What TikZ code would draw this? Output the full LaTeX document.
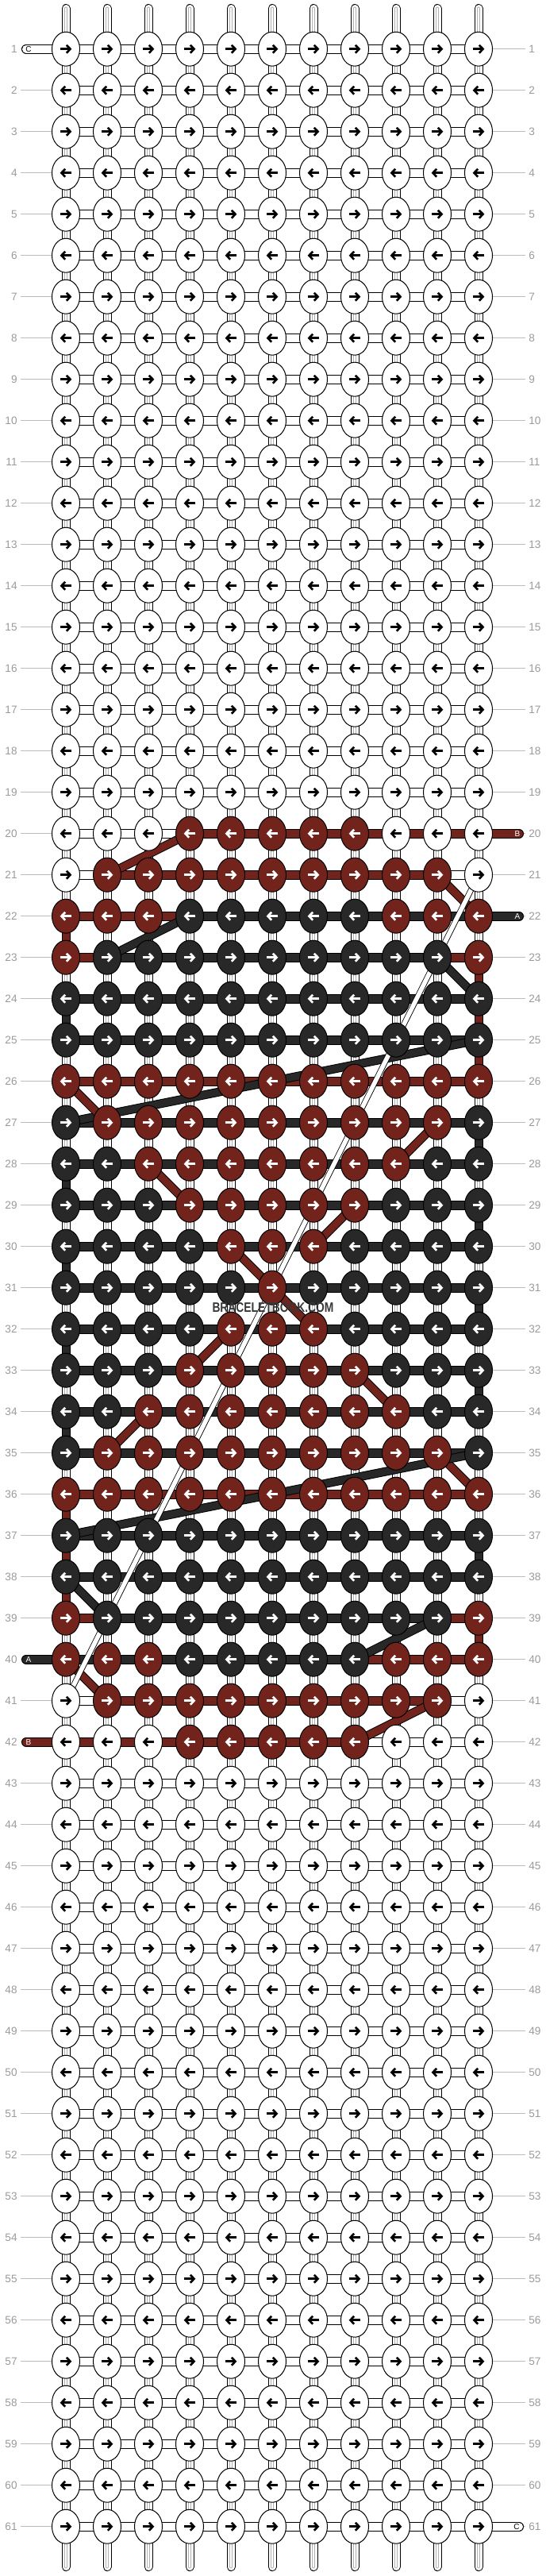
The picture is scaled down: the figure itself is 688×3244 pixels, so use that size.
\documentclass[tikz,border=0pt]{standalone}
\usepackage{fontspec}
\usepackage{graphicx}
\setmainfont{Liberation Sans}
\usetikzlibrary{shapes.geometric,arrows.meta}
\definecolor{cW}{HTML}{FFFFFF}
\definecolor{cR}{HTML}{72241C}
\definecolor{cK}{HTML}{282828}
\definecolor{labgray}{HTML}{9A9A9A}
\definecolor{linegray}{HTML}{BBBBBB}
\definecolor{threadgray}{HTML}{B0B0B0}
\newcommand\defknots[2]{\expandafter\def\csname kn#1\endcsname{#2}}
\newcommand\defbars[2]{\expandafter\def\csname hb#1\endcsname{#2}}
\newcommand\defvc[3]{\expandafter\def\csname vc#1-#2\endcsname{#3}}
\def\allW{W,W,W,W,W,W,W,W,W,W,W}
\def\allWb{W,W,W,W,W,W,W,W,W,W}
% knot colours
\defknots{20}{W,W,W,R,R,R,R,R,W,W,W}
\defknots{21}{W,R,R,R,R,R,R,R,R,R,W}
\defknots{22}{R,R,R,K,K,K,K,K,R,R,R}
\defknots{23}{R,K,K,K,K,K,K,K,K,K,R}
\defknots{24}{K,K,K,K,K,K,K,K,K,K,K}
\defknots{25}{K,K,K,K,K,K,K,K,K,K,K}
\defknots{26}{R,R,R,R,R,R,R,R,R,R,R}
\defknots{27}{K,R,R,R,R,R,R,R,R,R,K}
\defknots{28}{K,K,R,R,R,R,R,R,R,K,K}
\defknots{29}{K,K,K,R,R,R,R,R,K,K,K}
\defknots{30}{K,K,K,K,R,R,R,K,K,K,K}
\defknots{31}{K,K,K,K,K,R,K,K,K,K,K}
\defknots{32}{K,K,K,K,R,R,R,K,K,K,K}
\defknots{33}{K,K,K,R,R,R,R,R,K,K,K}
\defknots{34}{K,K,R,R,R,R,R,R,R,K,K}
\defknots{35}{K,R,R,R,R,R,R,R,R,R,K}
\defknots{36}{R,R,R,R,R,R,R,R,R,R,R}
\defknots{37}{K,K,K,K,K,K,K,K,K,K,K}
\defknots{38}{K,K,K,K,K,K,K,K,K,K,K}
\defknots{39}{R,K,K,K,K,K,K,K,K,K,R}
\defknots{40}{R,R,R,K,K,K,K,K,R,R,R}
\defknots{41}{W,R,R,R,R,R,R,R,R,R,W}
\defknots{42}{W,W,W,R,R,R,R,R,W,W,W}
% horizontal bars
\defbars{20}{W,W,W,R,R,R,R,R,R,R}
\defbars{21}{W,R,R,R,R,R,R,R,R,W}
\defbars{22}{R,R,R,K,K,K,K,K,K,K}
\defbars{23}{R,K,K,K,K,K,K,K,K,R}
\defbars{24}{K,K,K,K,K,K,K,K,K,K}
\defbars{25}{K,K,K,K,K,K,K,K,K,K}
\defbars{26}{R,R,R,R,R,R,R,R,R,R}
\defbars{27}{K,K,K,K,K,K,K,K,K,K}
\defbars{28}{K,K,K,K,K,K,K,K,K,K}
\defbars{29}{K,K,K,K,K,K,K,K,K,K}
\defbars{30}{K,K,K,K,K,K,K,K,K,K}
\defbars{31}{K,K,K,K,K,K,K,K,K,K}
\defbars{32}{K,K,K,K,K,K,K,K,K,K}
\defbars{33}{K,K,K,K,K,K,K,K,K,K}
\defbars{34}{K,K,K,K,K,K,K,K,K,K}
\defbars{35}{K,K,K,K,K,K,K,K,K,K}
\defbars{36}{R,R,R,R,R,R,R,R,R,R}
\defbars{37}{K,K,K,K,K,K,K,K,K,K}
\defbars{38}{K,K,K,K,K,K,K,K,K,K}
\defbars{39}{R,K,K,K,K,K,K,K,K,R}
\defbars{40}{K,K,K,K,K,K,K,R,R,R}
\defbars{41}{W,R,R,R,R,R,R,R,R,W}
\defbars{42}{R,R,R,R,R,R,R,W,W,W}
% coloured vertical links (between row #1 and #1+1, column #2)
\defvc{22}{1}{cR}\defvc{23}{11}{cR}\defvc{24}{1}{cK}\defvc{24}{11}{cR}
\defvc{25}{11}{cR}\defvc{27}{11}{cK}\defvc{28}{1}{cK}\defvc{29}{11}{cK}
\defvc{30}{1}{cK}\defvc{31}{11}{cK}\defvc{32}{1}{cK}\defvc{33}{11}{cK}
\defvc{34}{1}{cK}\defvc{36}{1}{cR}\defvc{37}{1}{cR}\defvc{37}{11}{cK}
\defvc{38}{1}{cR}\defvc{39}{11}{cR}
\tikzset{
  knot/.style={ellipse, draw=black, line width=0.5pt, minimum width=17.5pt, minimum height=21.5pt, inner sep=0pt},
  hbar/.style={draw=black, line width=0.5pt, double=#1, double distance=5pt},
  dbar/.style={draw=black, line width=0.5pt, double=#1, double distance=4.5pt},
  vcolor/.style={draw=black, line width=0.5pt, double=#1, double distance=4.5pt},
  vthread/.style={draw=black, line width=0.5pt, double=white, double distance=4.5pt,
     postaction={draw=threadgray, line width=0.5pt, double=white, double distance=1pt}},
  thinthread/.style={draw=black, line width=0.4pt, double=white, double distance=2.8pt},
  arr/.style={line width=1.3pt, -{Straight Barb[length=2.4pt,width=5pt]}},
  rowlab/.style={inner sep=0pt, text=labgray, font=\fontsize{6.8pt}{8pt}\selectfont},
  labline/.style={draw=linegray, line width=0.5pt, shorten <=2pt, shorten >=2pt},
  extlab/.style={inner sep=0pt, font=\fontsize{5pt}{6pt}\selectfont},
}
\begin{document}
\begin{tikzpicture}[x=0.5pt,y=-0.5pt]
\useasboundingbox (0,0) rectangle (688,3244);
% knot centres
\foreach \i in {1,...,61}{
  \foreach \j in {1,...,11}{
    \pgfmathsetmacro\xx{83+(\j-1)*52}
    \pgfmathsetmacro\yy{61.7+(\i-1)*52}
    \coordinate (p-\i-\j) at (\xx,\yy);
  }
}
% row labels and guide lines
\foreach \i in {1,...,61}{
  \pgfmathsetmacro\yy{61.7+(\i-1)*52}
  \node[rowlab,anchor=east] (ll-\i) at (22,\yy) {\i};
  \node[rowlab,anchor=west] (rl-\i) at (666,\yy) {\i};
  \draw[labline] (ll-\i) -- (rl-\i);
}
% top and bottom thread ends
\foreach \j in {1,...,11}{
  \pgfmathsetmacro\xx{83+(\j-1)*52}
  \coordinate (t-\j) at (\xx,10.5);
  \coordinate (b-\j) at (\xx,3232.5);
  \draw[vthread, line cap=round] (t-\j) -- (p-1-\j);
  \draw[vthread, line cap=round] (p-61-\j) -- (b-\j);
}
% vertical links
\foreach \i in {1,...,60}{
  \pgfmathtruncatemacro\inext{\i+1}
  \foreach \j in {1,...,11}{
    \ifcsname vc\i-\j\endcsname
      \edef\vv{\csname vc\i-\j\endcsname}
      \draw[vcolor=\vv] (p-\i-\j) -- (p-\inext-\j);
    \else
      \draw[vthread] (p-\i-\j) -- (p-\inext-\j);
    \fi
  }
}
% horizontal bars
\foreach \i in {1,...,61}{
  \ifcsname hb\i\endcsname
    \expandafter\let\expandafter\lst\csname hb\i\endcsname
  \else
    \let\lst\allWb
  \fi
  \foreach \col [count=\j] in \lst {
    \pgfmathtruncatemacro\jn{\j+1}
    \edef\cc{c\col}
    \draw[hbar=\cc] (p-\i-\j) -- (p-\i-\jn);
  }
}
% thread ends (extensions)
\coordinate (eL1) at (33,61.7);
\coordinate (eR61) at (654,3181.7);
\coordinate (eR20) at (654,1049.7);
\coordinate (eR22) at (654,1153.7);
\coordinate (eL40) at (33,2089.7);
\coordinate (eL42) at (33,2193.7);
\draw[hbar=cW, line cap=round] (eL1) -- (p-1-1);
\draw[hbar=cW, line cap=round] (p-61-11) -- (eR61);
\draw[hbar=cR, line cap=round] (p-20-11) -- (eR20);
\draw[hbar=cK, line cap=round] (p-22-11) -- (eR22);
\draw[hbar=cK, line cap=round] (eL40) -- (p-40-1);
\draw[hbar=cR, line cap=round] (eL42) -- (p-42-1);
% diagonal carries
\foreach \a/\b/\c/\d/\col in {20/4/21/2/R, 21/10/22/11/R, 22/4/23/2/K, 23/10/24/11/K,
   25/11/27/1/K, 26/1/27/2/R, 27/10/28/9/R, 28/3/29/4/R, 29/8/30/7/R, 30/5/31/6/R,
   31/6/32/7/R, 32/5/33/4/R, 33/8/34/9/R, 34/3/35/2/R, 35/10/36/11/R, 35/11/37/1/K,
   38/1/39/2/K, 39/10/40/8/K, 40/1/41/2/R, 41/10/42/8/R}{
  \edef\cc{c\col}
  \draw[dbar=\cc] (p-\a-\b) -- (p-\c-\d);
}
% thin white thread
\draw[thinthread] (p-21-11) -- (p-41-1);
% knots
\foreach \i in {1,...,61}{
  \ifcsname kn\i\endcsname
    \expandafter\let\expandafter\lst\csname kn\i\endcsname
  \else
    \let\lst\allW
  \fi
  \pgfmathtruncatemacro\rowpar{mod(\i,2)}
  \foreach \col [count=\j] in \lst {
    \edef\cc{c\col}
    \node[knot, fill=\cc] (k-\i-\j) at (p-\i-\j) {};
    \if W\col \def\ac{black}\else \def\ac{white}\fi
    \ifnum\rowpar=1
      \draw[arr, draw=\ac] ([xshift=-3.7pt]k-\i-\j.center) -- ([xshift=3.7pt]k-\i-\j.center);
    \else
      \draw[arr, draw=\ac] ([xshift=3.7pt]k-\i-\j.center) -- ([xshift=-3.7pt]k-\i-\j.center);
    \fi
  }
}
% thread letters
\node[extlab, text=black] (lC1) at (36,61.7) {C};
\node[extlab, text=black] (lC61) at (651,3181.7) {C};
\node[extlab, text=white] (lB20) at (652,1049.7) {B};
\node[extlab, text=white] (lA22) at (652,1153.7) {A};
\node[extlab, text=white] (lA40) at (36,2089.7) {A};
\node[extlab, text=white] (lB42) at (36,2193.7) {B};
% watermark
\node[inner sep=0pt, text=black!78, font=\bfseries] (logo) at (344,1647) {\resizebox{76.5pt}{6pt}{BRACELETBOOK.COM}};
\end{tikzpicture}
\end{document}
